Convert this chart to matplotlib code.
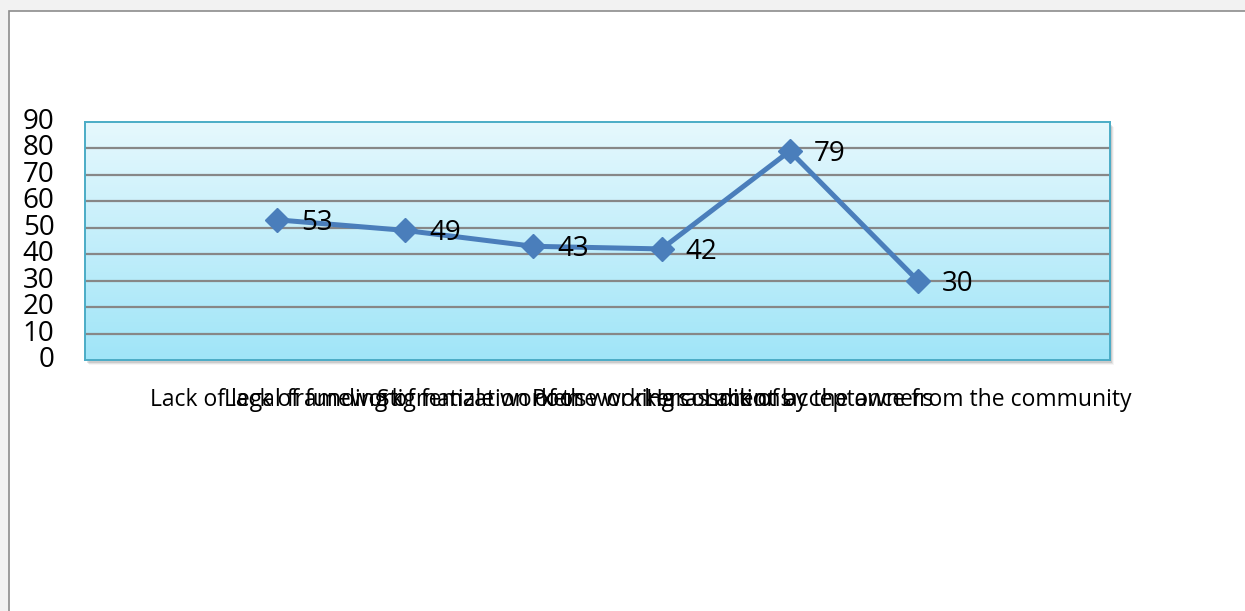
import matplotlib
matplotlib.use("Agg")
import matplotlib.pyplot as plt
import numpy as np
from matplotlib.patches import Rectangle
from matplotlib.colors import LinearSegmentedColormap

categories = [
    "",
    "Lack of legal framework",
    "Lack of funding of female workers",
    "Stigmatization of the workers",
    "Poor working conditions",
    "Harassment by the owners",
    "Lack of acceptance from the community",
    "",
]
values = [None, 53, 49, 43, 42, 79, 30, None]
yticks = [0, 10, 20, 30, 40, 50, 60, 70, 80, 90]

plt.rcParams['font.family'] = ['Open Sans', 'DejaVu Sans']

W, H = 1245, 611
fig = plt.figure(figsize=(W / 100, H / 100), dpi=100)
fig.patch.set_facecolor('#f2f2f2')

# white page with grey border
page = Rectangle((9 / W, -0.1), 1.1, 1 - 11 / H + 0.1, transform=fig.transFigure,
                 facecolor='white', edgecolor='#8c8c8c', linewidth=1.2, zorder=0)
fig.patches.append(page)

L, R, T, B = 85, 1110, 122, 360
# drop shadow
for i, a in enumerate([0.10, 0.07, 0.04]):
    sh = Rectangle(((L + 2 + i) / W, 1 - (B + 3 + i) / H), (R - L) / W, (B - T) / H,
                   transform=fig.transFigure, facecolor='black', alpha=a,
                   edgecolor='none', zorder=1)
    fig.patches.append(sh)

ax = fig.add_axes([L / W, 1 - B / H, (R - L) / W, (B - T) / H])
ax.set_zorder(2)

x = np.arange(len(categories))
xs = [xi for xi, v in zip(x, values) if v is not None]
ys = [v for v in values if v is not None]

ax.set_xlim(-0.5, len(categories) - 0.5)
ax.set_ylim(0, 90)

cmap = LinearSegmentedColormap.from_list('bg', ['#a0e5f8', '#e6f8fd'])
grad = np.linspace(0, 1, 256).reshape(-1, 1)
ax.imshow(grad, extent=[-0.5, len(categories) - 0.5, 0, 90], origin='lower',
          aspect='auto', cmap=cmap, zorder=0)

for yv in yticks[1:-1]:
    ax.axhline(yv, color='#878787', linewidth=1.6, zorder=1)

ax.plot(xs, ys, color='#4a7ebb', linewidth=3.6, marker='D', markersize=12,
        markeredgecolor='#4a7ebb', zorder=3, solid_capstyle='round')

for xi, v in zip(xs, ys):
    ax.annotate(str(v), (xi, v), xytext=(40, -3), textcoords='offset pixels',
                ha='center', va='center', fontsize=20, color='black', zorder=4)

ax.set_yticks(yticks)
ax.set_yticklabels([str(t) for t in yticks], fontsize=20)
ax.set_xticks(x)
ax.set_xticklabels(categories, fontsize=16.5)
ax.tick_params(axis='both', length=0)
ax.tick_params(axis='y', pad=22)
ax.tick_params(axis='x', pad=20)
for lab in ax.get_yticklabels():
    lab.set_verticalalignment('center')

for sp in ax.spines.values():
    sp.set_color('#4bacc6')
    sp.set_linewidth(1.4)

fig.savefig('out.png', dpi=100, facecolor=fig.get_facecolor())
